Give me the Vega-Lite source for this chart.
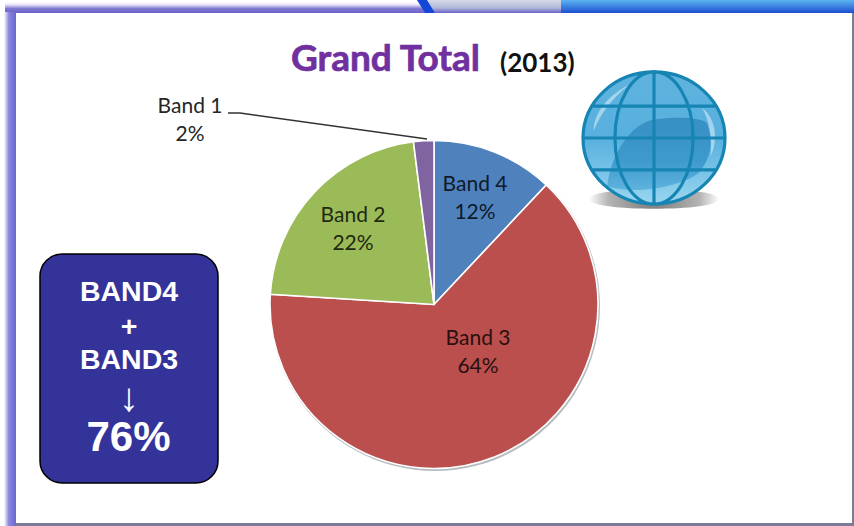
{
  "$schema": "https://vega.github.io/schema/vega-lite/v6.json",
  "width": 854,
  "height": 526,
  "padding": 0,
  "autosize": {"type": "fit", "contains": "padding"},
  "background": "#ffffff",
  "view": {"stroke": null},
  "datasets": {
    "bands": [
      {"seq": 1, "band": "Band 4", "share": 12, "label": "Band 4\n12%"},
      {"seq": 2, "band": "Band 3", "share": 64, "label": "Band 3\n64%"},
      {"seq": 3, "band": "Band 2", "share": 22, "label": "Band 2\n22%"},
      {"seq": 4, "band": "Band 1", "share": 2, "label": "Band 1\n2%"}
    ],
    "leader": [
      {"step": 1, "px": 228, "py": 113},
      {"step": 2, "px": 240, "py": 113},
      {"step": 3, "px": 427, "py": 139}
    ]
  },
  "data": {"values": [{}]},
  "layer": [
    {
      "mark": {"type": "rect", "color": {"gradient": "linear", "x1": 0, "y1": 0, "x2": 0, "y2": 1, "stops": [{"offset": 0, "color": "#ffffff"}, {"offset": 0.25, "color": "#e9e4f8"}, {"offset": 0.6, "color": "#7f78d2"}, {"offset": 1, "color": "#6a62c8"}]}},
      "encoding": {
        "x": {"datum": 5, "type": "quantitative", "scale": {"domain": [0, 854]}, "axis": null},
        "x2": {"datum": 430},
        "y": {"datum": 2, "type": "quantitative", "scale": {"domain": [526, 0]}, "axis": null},
        "y2": {"datum": 13}
      }
    },
    {
      "mark": {"type": "rect", "color": {"gradient": "linear", "x1": 0, "y1": 0, "x2": 0, "y2": 1, "stops": [{"offset": 0, "color": "#d5dbe6"}, {"offset": 0.6, "color": "#b0b8d8"}, {"offset": 1, "color": "#6a62c8"}]}},
      "encoding": {
        "x": {"datum": 425, "type": "quantitative", "scale": {"domain": [0, 854]}, "axis": null},
        "x2": {"datum": 561},
        "y": {"datum": 0, "type": "quantitative", "scale": {"domain": [526, 0]}, "axis": null},
        "y2": {"datum": 13}
      }
    },
    {
      "mark": {"type": "point", "filled": true, "opacity": 1, "fill": "#1446d8", "shape": "M-1,-.72L.1,-.72L1,.72L-.1,.72Z", "size": 324},
      "encoding": {
        "x": {"datum": 426, "type": "quantitative", "scale": {"domain": [0, 854]}, "axis": null},
        "y": {"datum": 6.5, "type": "quantitative", "scale": {"domain": [526, 0]}, "axis": null}
      }
    },
    {
      "mark": {"type": "rect", "color": {"gradient": "linear", "x1": 0, "y1": 0, "x2": 0, "y2": 1, "stops": [{"offset": 0, "color": "#5cb4f0"}, {"offset": 1, "color": "#1c4fd0"}]}},
      "encoding": {
        "x": {"datum": 561, "type": "quantitative", "scale": {"domain": [0, 854]}, "axis": null},
        "x2": {"datum": 854},
        "y": {"datum": 0, "type": "quantitative", "scale": {"domain": [526, 0]}, "axis": null},
        "y2": {"datum": 13}
      }
    },
    {
      "mark": {"type": "rect", "color": {"gradient": "linear", "x1": 0, "y1": 0, "x2": 1, "y2": 0, "stops": [{"offset": 0, "color": "#ffffff"}, {"offset": 0.4, "color": "#8a86dc"}, {"offset": 1, "color": "#6a66d2"}]}},
      "encoding": {
        "x": {"datum": 4, "type": "quantitative", "scale": {"domain": [0, 854]}, "axis": null},
        "x2": {"datum": 16},
        "y": {"datum": 12, "type": "quantitative", "scale": {"domain": [526, 0]}, "axis": null},
        "y2": {"datum": 526}
      }
    },
    {
      "mark": {"type": "rect", "color": "#7c7c96"},
      "encoding": {
        "x": {"datum": 16, "type": "quantitative", "scale": {"domain": [0, 854]}, "axis": null},
        "x2": {"datum": 854},
        "y": {"datum": 523, "type": "quantitative", "scale": {"domain": [526, 0]}, "axis": null},
        "y2": {"datum": 526}
      }
    },
    {
      "mark": {"type": "rect", "color": "#7c7c96"},
      "encoding": {
        "x": {"datum": 852, "type": "quantitative", "scale": {"domain": [0, 854]}, "axis": null},
        "x2": {"datum": 854},
        "y": {"datum": 13, "type": "quantitative", "scale": {"domain": [526, 0]}, "axis": null},
        "y2": {"datum": 526}
      }
    },
    {
      "data": {"name": "bands"},
      "mark": {"type": "arc", "outerRadius": 165, "color": "#aeb6ba", "opacity": 0.9},
      "encoding": {
        "x": {"datum": 435, "type": "quantitative", "scale": {"domain": [0, 854]}, "axis": null},
        "y": {"datum": 306, "type": "quantitative", "scale": {"domain": [526, 0]}, "axis": null},
        "theta": {"field": "share", "type": "quantitative", "stack": true},
        "order": {"field": "seq", "type": "ordinal"}
      }
    },
    {
      "data": {"name": "bands"},
      "mark": {"type": "arc", "outerRadius": 164, "stroke": "#ffffff", "strokeWidth": 1.6},
      "encoding": {
        "x": {"datum": 434, "type": "quantitative", "scale": {"domain": [0, 854]}, "axis": null},
        "y": {"datum": 304.5, "type": "quantitative", "scale": {"domain": [526, 0]}, "axis": null},
        "theta": {"field": "share", "type": "quantitative", "stack": true},
        "order": {"field": "seq", "type": "ordinal"},
        "color": {
          "field": "band",
          "type": "nominal",
          "legend": null,
          "scale": {"domain": ["Band 1", "Band 2", "Band 3", "Band 4"], "range": ["#8064a2", "#9bbb59", "#bb4f4d", "#4f81bd"]}
        }
      }
    },
    {
      "data": {"name": "leader"},
      "mark": {"type": "line", "color": "#333333", "strokeWidth": 1.4},
      "encoding": {
        "x": {"field": "px", "type": "quantitative", "scale": {"domain": [0, 854]}, "axis": null},
        "y": {"field": "py", "type": "quantitative", "scale": {"domain": [526, 0]}, "axis": null},
        "order": {"field": "step", "type": "ordinal"}
      }
    },
    {
      "data": {"name": "bands"},
      "transform": [{"filter": "datum.band === 'Band 1'"}],
      "mark": {"type": "text", "font": "Lato", "fontSize": 21, "color": "#262626", "lineBreak": "\n", "lineHeight": 28, "align": "center", "baseline": "alphabetic"},
      "encoding": {
        "x": {"datum": 190, "type": "quantitative", "scale": {"domain": [0, 854]}, "axis": null},
        "y": {"datum": 113, "type": "quantitative", "scale": {"domain": [526, 0]}, "axis": null},
        "text": {"field": "label"}
      }
    },
    {
      "data": {"name": "bands"},
      "transform": [{"filter": "datum.band === 'Band 2'"}],
      "mark": {"type": "text", "font": "Lato", "fontSize": 21, "color": "#1f2a10", "lineBreak": "\n", "lineHeight": 28, "align": "center", "baseline": "alphabetic"},
      "encoding": {
        "x": {"datum": 353, "type": "quantitative", "scale": {"domain": [0, 854]}, "axis": null},
        "y": {"datum": 222, "type": "quantitative", "scale": {"domain": [526, 0]}, "axis": null},
        "text": {"field": "label"}
      }
    },
    {
      "data": {"name": "bands"},
      "transform": [{"filter": "datum.band === 'Band 3'"}],
      "mark": {"type": "text", "font": "Lato", "fontSize": 21, "color": "#2a1010", "lineBreak": "\n", "lineHeight": 28, "align": "center", "baseline": "alphabetic"},
      "encoding": {
        "x": {"datum": 478, "type": "quantitative", "scale": {"domain": [0, 854]}, "axis": null},
        "y": {"datum": 345, "type": "quantitative", "scale": {"domain": [526, 0]}, "axis": null},
        "text": {"field": "label"}
      }
    },
    {
      "data": {"name": "bands"},
      "transform": [{"filter": "datum.band === 'Band 4'"}],
      "mark": {"type": "text", "font": "Lato", "fontSize": 21, "color": "#101a2a", "lineBreak": "\n", "lineHeight": 28, "align": "center", "baseline": "alphabetic"},
      "encoding": {
        "x": {"datum": 475, "type": "quantitative", "scale": {"domain": [0, 854]}, "axis": null},
        "y": {"datum": 191, "type": "quantitative", "scale": {"domain": [526, 0]}, "axis": null},
        "text": {"field": "label"}
      }
    },
    {
      "mark": {"type": "text", "font": "Lato", "fontWeight": "bold", "fontSize": 37, "color": "#7030a0", "stroke": "#7030a0", "strokeWidth": 0.7, "align": "left", "baseline": "alphabetic"},
      "encoding": {
        "x": {"datum": 291, "type": "quantitative", "scale": {"domain": [0, 854]}, "axis": null},
        "y": {"datum": 71, "type": "quantitative", "scale": {"domain": [526, 0]}, "axis": null},
        "text": {"value": "Grand Total"}
      }
    },
    {
      "mark": {"type": "text", "font": "Lato", "fontWeight": "bold", "fontSize": 26, "color": "#111111", "align": "left", "baseline": "alphabetic"},
      "encoding": {
        "x": {"datum": 500, "type": "quantitative", "scale": {"domain": [0, 854]}, "axis": null},
        "y": {"datum": 72, "type": "quantitative", "scale": {"domain": [526, 0]}, "axis": null},
        "text": {"value": "(2013)"}
      }
    },
    {
      "mark": {"type": "rect", "color": "#333399", "stroke": "#000000", "strokeWidth": 1.5, "cornerRadius": 22},
      "encoding": {
        "x": {"datum": 40, "type": "quantitative", "scale": {"domain": [0, 854]}, "axis": null},
        "x2": {"datum": 218},
        "y": {"datum": 254, "type": "quantitative", "scale": {"domain": [526, 0]}, "axis": null},
        "y2": {"datum": 483}
      }
    },
    {
      "mark": {"type": "text", "font": "Liberation Sans", "fontWeight": "bold", "fontSize": 28.5, "color": "#ffffff", "align": "center", "baseline": "alphabetic"},
      "encoding": {
        "x": {"datum": 129, "type": "quantitative", "scale": {"domain": [0, 854]}, "axis": null},
        "y": {"datum": 301, "type": "quantitative", "scale": {"domain": [526, 0]}, "axis": null},
        "text": {"value": "BAND4"}
      }
    },
    {
      "mark": {"type": "text", "font": "Liberation Sans", "fontWeight": "bold", "fontSize": 28.5, "color": "#ffffff", "align": "center", "baseline": "alphabetic"},
      "encoding": {
        "x": {"datum": 129, "type": "quantitative", "scale": {"domain": [0, 854]}, "axis": null},
        "y": {"datum": 336, "type": "quantitative", "scale": {"domain": [526, 0]}, "axis": null},
        "text": {"value": "+"}
      }
    },
    {
      "mark": {"type": "text", "font": "Liberation Sans", "fontWeight": "bold", "fontSize": 28.5, "color": "#ffffff", "align": "center", "baseline": "alphabetic"},
      "encoding": {
        "x": {"datum": 129, "type": "quantitative", "scale": {"domain": [0, 854]}, "axis": null},
        "y": {"datum": 369, "type": "quantitative", "scale": {"domain": [526, 0]}, "axis": null},
        "text": {"value": "BAND3"}
      }
    },
    {
      "mark": {"type": "text", "font": "Liberation Sans", "fontSize": 40, "color": "#ffffff", "align": "center", "baseline": "alphabetic"},
      "encoding": {
        "x": {"datum": 129, "type": "quantitative", "scale": {"domain": [0, 854]}, "axis": null},
        "y": {"datum": 411, "type": "quantitative", "scale": {"domain": [526, 0]}, "axis": null},
        "text": {"value": "↓"}
      }
    },
    {
      "mark": {"type": "text", "font": "Liberation Sans", "fontWeight": "bold", "fontSize": 42, "color": "#ffffff", "align": "center", "baseline": "alphabetic"},
      "encoding": {
        "x": {"datum": 128.5, "type": "quantitative", "scale": {"domain": [0, 854]}, "axis": null},
        "y": {"datum": 451, "type": "quantitative", "scale": {"domain": [526, 0]}, "axis": null},
        "text": {"value": "76%"}
      }
    },
    {
      "mark": {"type": "point", "filled": true, "shape": "M-1,0C-1,-0.2 1,-0.2 1,0C1,0.2 -1,0.2 -1,0Z", "size": 17000, "opacity": 1, "fill": {"gradient": "radial", "x1": 0.5, "y1": 0.5, "r1": 0, "x2": 0.5, "y2": 0.5, "r2": 0.5, "stops": [{"offset": 0, "color": "#7a7a7a"}, {"offset": 0.7, "color": "#b4b4b4"}, {"offset": 1, "color": "#ffffff"}]}},
      "encoding": {
        "x": {"datum": 654, "type": "quantitative", "scale": {"domain": [0, 854]}, "axis": null},
        "y": {"datum": 199, "type": "quantitative", "scale": {"domain": [526, 0]}, "axis": null}
      }
    },
    {
      "mark": {"type": "point", "filled": true, "opacity": 1, "shape": "M-1,0A1,0.93 0 1 1 1,0A1,0.93 0 1 1 -1,0Z", "size": 20164, "fill": {"gradient": "linear", "x1": 0, "y1": 0, "x2": 0, "y2": 1, "stops": [{"offset": 0, "color": "#5fb3de"}, {"offset": 0.5, "color": "#58b0de"}, {"offset": 1, "color": "#98d6f0"}]}},
      "encoding": {
        "x": {"datum": 654, "type": "quantitative", "scale": {"domain": [0, 854]}, "axis": null},
        "y": {"datum": 138, "type": "quantitative", "scale": {"domain": [526, 0]}, "axis": null}
      }
    },
    {
      "mark": {"type": "point", "filled": true, "opacity": 1, "shape": "M-.66,.68C-.6,.2 -.3,-.27 .1,-.27C.4,-.3 .62,-.28 .74,-.22C.85,.05 .8,.3 .62,.5C.35,.7 -.3,.8 -.66,.68Z", "size": 20164, "fill": {"gradient": "linear", "x1": 0, "y1": 0, "x2": 0, "y2": 1, "stops": [{"offset": 0, "color": "#378fc2"}, {"offset": 0.6, "color": "#3e9acd"}, {"offset": 1, "color": "#5fb3de"}]}},
      "encoding": {
        "x": {"datum": 654, "type": "quantitative", "scale": {"domain": [0, 854]}, "axis": null},
        "y": {"datum": 138, "type": "quantitative", "scale": {"domain": [526, 0]}, "axis": null}
      }
    },
    {
      "mark": {"type": "point", "filled": true, "opacity": 0.45, "fill": "#ffffff", "shape": "M.68,-.42C.85,-.3 .92,0 .8,.25C.82,0 .78,-.25 .68,-.42ZM-.85,-.1C-.85,-.35 -.65,-.6 -.35,-.75C-.6,-.55 -.75,-.35 -.85,-.1Z", "size": 20164},
      "encoding": {
        "x": {"datum": 654, "type": "quantitative", "scale": {"domain": [0, 854]}, "axis": null},
        "y": {"datum": 138, "type": "quantitative", "scale": {"domain": [526, 0]}, "axis": null}
      }
    },
    {
      "mark": {"type": "point", "filled": false, "opacity": 1, "stroke": "#1685b3", "strokeWidth": 3.2, "shape": "M-1,0A1,0.93 0 1 1 1,0A1,0.93 0 1 1 -1,0ZM0,-.93A.55,.93 0 0 0 0,.93A.55,.93 0 0 0 0,-.93ZM0,-.93L0,.93M-1,0L1,0M-.88,-.45L.88,-.45M-.88,.45L.88,.45", "size": 20164},
      "encoding": {
        "x": {"datum": 654, "type": "quantitative", "scale": {"domain": [0, 854]}, "axis": null},
        "y": {"datum": 138, "type": "quantitative", "scale": {"domain": [526, 0]}, "axis": null}
      }
    }
  ]
}
